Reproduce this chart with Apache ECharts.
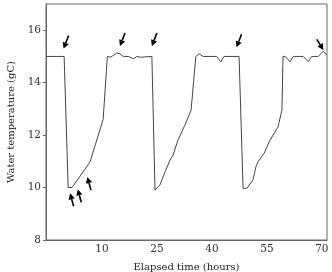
<!DOCTYPE html>
<html>
<head>
<meta charset="utf-8">
<script src="https://cdn.jsdelivr.net/npm/echarts@6/dist/echarts.min.js"></script>
<style>
  html, body { margin: 0; padding: 0; background: #fff; }
  #chart { width: 332px; height: 272px; }
</style>
</head>
<body>
<div id="chart"></div>
<script>
  // elapsed time (hours) and water temperature readings
  var hours = [-5.3, -0.35, 0.75, 1.8, 6.7, 10.3, 11.45, 12.2, 13.1, 14.0, 14.9, 15.8, 17.2, 18.6, 19.5, 20.4, 23.6,
    24.46, 25.8, 27.2, 28.55, 29.4, 30.7, 32.6, 34.3, 35.6, 36.0, 36.5, 36.9, 37.6, 41.3, 42.4, 43.3, 47.4,
    48.5, 49.5, 51.2, 52.0, 52.55, 54.2, 55.8, 58.0, 59.1, 59.4, 60.0, 60.4, 61.3, 62.2, 64.9, 66.3, 67.2, 69, 70.4, 71.3]
  var temps = [15, 15, 10, 10, 10.97, 12.6, 15, 14.97, 15.04, 15.13, 15.1, 15, 15, 14.91, 15, 14.97, 15,
    9.9, 10.1, 10.6, 11.05, 11.24, 11.8, 12.38, 12.95, 15, 15.07, 15.1, 15.04, 15, 15, 14.8, 15, 15,
    9.97, 9.97, 10.29, 10.8, 10.98, 11.3, 11.8, 12.3, 12.95, 15, 15, 15.07, 14.8, 15, 15, 14.8, 15, 15, 15.2, 15.05]

  // arrow annotations: tip position (hours, temp) and which way the tail goes
  var arrowX = [-0.5, 14.9, 23.6, 46.7, 70.4, 1.28, 3.38, 6.0]
  var arrowY = [15.3, 15.4, 15.4, 15.35, 15.25, 9.78, 9.93, 10.4]
  var arrowDir = ['dl', 'dl', 'dl', 'dl', 'dr', 'up', 'up', 'up']

  var xTicks = [10, 25, 40, 55, 70]
  var yTicks = [8, 10, 12, 14, 16]

  var lineData = hours.map(function(h, i) { return [h, temps[i]] })
  var arrowData = arrowX.map(function(x, i) { return [x, arrowY[i], i] })

  var font = 'DejaVu Serif'
  var chart = echarts.init(document.getElementById('chart'))
  chart.setOption({
    animation: false,
    grid: {
      left: 46,
      right: 5,
      top: 4,
      bottom: 32,
      outerBoundsMode: 'none',
      containLabel: false,
      show: true,
      borderColor: '#666',
      borderWidth: 1
    },
    xAxis: {
      type: 'value',
      min: -5.3,
      max: 71.4,
      name: 'Elapsed time (hours)',
      nameLocation: 'middle',
      nameGap: 22,
      nameTextStyle: { fontFamily: font, fontSize: 10, color: '#222' },
      axisLine: { show: true, onZero: false, lineStyle: { color: '#666' } },
      axisTick: { show: false },
      splitLine: { show: false },
      axisLabel: {
        customValues: xTicks,
        fontFamily: font,
        fontSize: 10.5,
        color: '#333',
        margin: 4
      }
    },
    yAxis: {
      type: 'value',
      min: 8,
      max: 17,
      name: 'Water temperature (gC)',
      nameLocation: 'middle',
      nameGap: 29,
      nameTextStyle: { fontFamily: font, fontSize: 10, color: '#222' },
      axisLine: { show: true, onZero: false, lineStyle: { color: '#666' } },
      axisTick: { show: true, customValues: yTicks, length: 3, lineStyle: { color: '#666' } },
      splitLine: { show: false },
      axisLabel: {
        customValues: yTicks,
        fontFamily: font,
        fontSize: 10.5,
        color: '#333',
        margin: 5
      }
    },
    series: [{
      type: 'line',
      data: lineData,
      symbol: 'none',
      lineStyle: { color: '#444', width: 1 }
    }, {
      type: 'custom',
      data: arrowData,
      clip: false,
      renderItem: function(params, api) {
        var tip = api.coord([api.value(0), api.value(1)])
        var dir = arrowDir[api.value(2)]
        // tail offset in pixels
        var dx = 5, dy = -13
        if (dir === 'dr') { dx = -6.5; dy = -10.5 }
        if (dir === 'up') { dx = 3.5; dy = 13 }
        var len = Math.sqrt(dx * dx + dy * dy)
        var ux = dx / len, uy = dy / len
        var headL = 6, headW = 3.2
        var bx = tip[0] + ux * headL, by = tip[1] + uy * headL
        return {
          type: 'group',
          children: [{
            type: 'line',
            shape: { x1: tip[0] + dx, y1: tip[1] + dy, x2: bx, y2: by },
            style: { stroke: '#000', lineWidth: 1.6 }
          }, {
            type: 'polygon',
            shape: {
              points: [
                [tip[0], tip[1]],
                [bx - uy * headW, by + ux * headW],
                [bx + uy * headW, by - ux * headW]
              ]
            },
            style: { fill: '#000' }
          }]
        }
      }
    }]
  })
</script>
</body>
</html>
